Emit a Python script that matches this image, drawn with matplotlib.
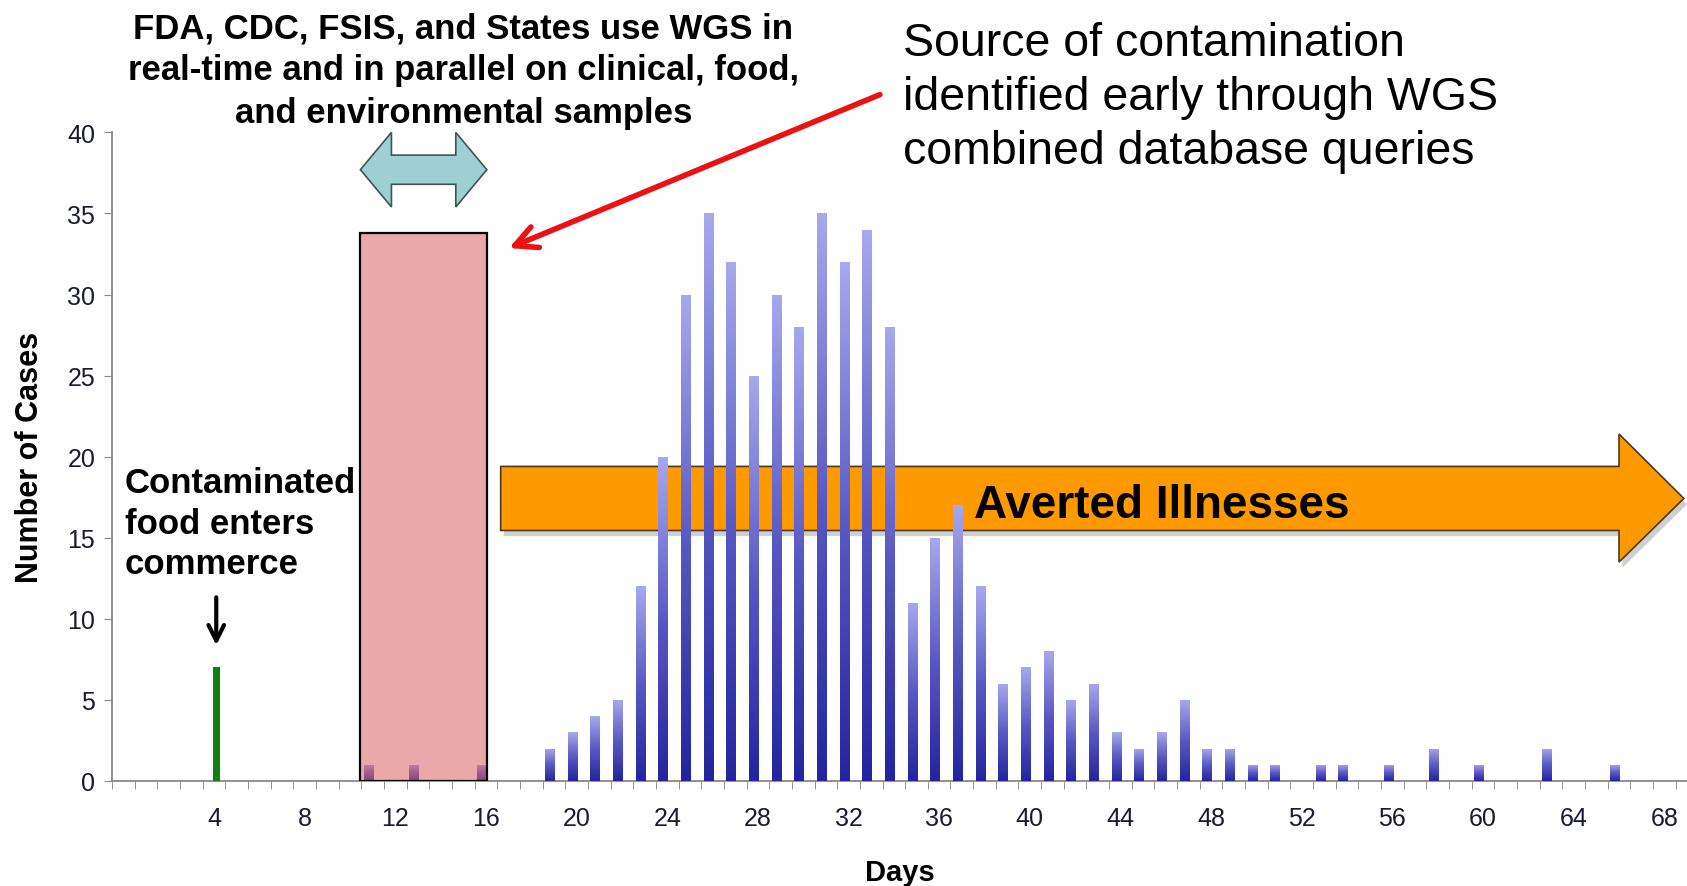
import numpy as np
import matplotlib
matplotlib.use("Agg")
import matplotlib.pyplot as plt
from matplotlib.colors import LinearSegmentedColormap
from matplotlib.patches import Polygon, Rectangle

plt.rcParams['font.family'] = ['Liberation Sans', 'DejaVu Sans']

# case counts by day
case_days = [11, 13, 16, 19, 20, 21, 22, 23, 24, 25, 26, 27, 28, 29, 30, 31, 32, 33, 34,
             35, 36, 37, 38, 39, 40, 41, 42, 43, 44, 45, 46, 47, 48, 49, 50, 51, 53, 54,
             56, 58, 60, 63, 66]
case_counts = [1, 1, 1, 2, 3, 4, 5, 12, 20, 30, 35, 32, 25, 30, 28, 35, 32, 34, 28,
               11, 15, 17, 12, 6, 7, 8, 5, 6, 3, 2, 3, 5, 2, 2, 1, 1, 1, 1,
               1, 2, 1, 2, 1]
entry_day = [4]
entry_count = [7]
tick_days = list(range(4, 69, 4))

fig = plt.figure(figsize=(16.87, 8.87), dpi=100)
ax = fig.add_axes([0.0664, 0.1184, 0.9336, 0.7312])

# orange "averted illnesses" arrow, behind the bars
bx0, bx1, hx = 16.65, 66.0, 68.86
by0, by1, hy0, hy1 = 15.45, 19.4, 13.5, 21.4
arrow_pts = [(bx0, by0), (bx1, by0), (bx1, hy0), (hx, (by0 + by1) / 2),
             (bx1, hy1), (bx1, by1), (bx0, by1)]
shadow = Polygon([(x + 0.15, y - 0.35) for x, y in arrow_pts], closed=True,
                 facecolor='#00000030', edgecolor='none', zorder=1)
ax.add_patch(shadow)
ax.add_patch(Polygon(arrow_pts, closed=True, facecolor='#ff9900',
                     edgecolor='#4a3a20', lw=1.2, zorder=2))

# gradient bars (Excel draws them a touch left of the category centre)
cmap = LinearSegmentedColormap.from_list('bluegrad', ['#2424a0', '#5a5ac4', '#a8a8ee'])
grad = np.linspace(0, 1, 128).reshape(-1, 1)
bar_x = np.array(case_days) - 0.18
bars = ax.bar(bar_x, case_counts, width=0.42, color='none', edgecolor='none', zorder=3)
for b in bars:
    x0, w, h = b.get_x(), b.get_width(), b.get_height()
    im = ax.imshow(grad, extent=[x0, x0 + w, 0, h], aspect='auto', cmap=cmap,
                   origin='lower', zorder=3)
    im.set_clip_path(b)

ax.bar(np.array(entry_day) + 0.1, entry_count, width=0.3, color='#108010', zorder=3)

# pink WGS window box
box_x0, box_x1, box_top = 10.46, 16.04, 33.8
ax.add_patch(Rectangle((box_x0, 0), box_x1 - box_x0, box_top, facecolor='#d96166',
                       alpha=0.55, edgecolor='none', zorder=4))
ax.add_patch(Rectangle((box_x0, 0), box_x1 - box_x0, box_top, facecolor='none',
                       edgecolor='black', lw=1.6, zorder=5))

# cyan double-headed arrow above the box
cy, ch, cs = 37.7, 2.3, 0.9
hl = 1.37
dbl = [(box_x0, cy), (box_x0 + hl, cy + ch), (box_x0 + hl, cy + cs),
       (box_x1 - hl, cy + cs), (box_x1 - hl, cy + ch), (box_x1, cy),
       (box_x1 - hl, cy - ch), (box_x1 - hl, cy - cs), (box_x0 + hl, cy - cs),
       (box_x0 + hl, cy - ch)]
ax.add_patch(Polygon(dbl, closed=True, facecolor='#9ed0d2', edgecolor='#3f5555',
                     lw=1.2, zorder=5, clip_on=False))

# text annotations
ax.text(15.0, 43.85, "FDA, CDC, FSIS, and States use WGS in\n"
        "real-time and in parallel on clinical, food,\nand environmental samples",
        ha='center', va='center', fontsize=25, fontweight='bold', linespacing=1.36,
        clip_on=False)
ax.text(34.4, 42.2, "Source of contamination\nidentified early through WGS\n"
        "combined database queries", ha='left', va='center', fontsize=33.5,
        linespacing=1.3, clip_on=False)
ax.text(0.07, 15.9, "Contaminated\nfood enters\ncommerce", ha='left', va='center',
        fontsize=25, fontweight='bold', linespacing=1.28, zorder=6)
ax.text(45.8, 17.05, "Averted Illnesses", ha='center', va='center', fontsize=33,
        fontweight='bold', zorder=6)

ax.annotate("", xy=(4.1, 8.2), xytext=(4.1, 11.5),
            arrowprops=dict(arrowstyle='->', color='black', lw=3, mutation_scale=28))
ax.annotate("", xy=(16.9, 32.8), xytext=(33.5, 42.4), annotation_clip=False,
            arrowprops=dict(arrowstyle='->', color='#ee1111', lw=4, mutation_scale=40))

# axes styling
ax.set_xlim(-0.5, 69.0)
ax.set_ylim(0, 40)
ax.set_yticks(range(0, 41, 5))
ax.set_xticks(tick_days)
ax.set_xticks(np.arange(-0.5, 69.5, 1), minor=True)
ax.tick_params(axis='x', which='major', length=0, pad=18, labelsize=18)
ax.tick_params(axis='x', which='minor', length=6, color='#888888')
ax.tick_params(axis='y', length=6, color='#888888', labelsize=18, pad=6)
for lab in ax.get_xticklabels() + ax.get_yticklabels():
    lab.set_color('#1a1a33')
for s in ['top', 'right']:
    ax.spines[s].set_visible(False)
for s in ['left', 'bottom']:
    ax.spines[s].set_color('#888888')
    ax.spines[s].set_linewidth(1.3)
ax.set_xlabel("Days", fontsize=21, fontweight='bold', labelpad=20)
ax.set_ylabel("Number of Cases", fontsize=22, fontweight='bold', labelpad=16)

fig.savefig("out.png", dpi=100)
